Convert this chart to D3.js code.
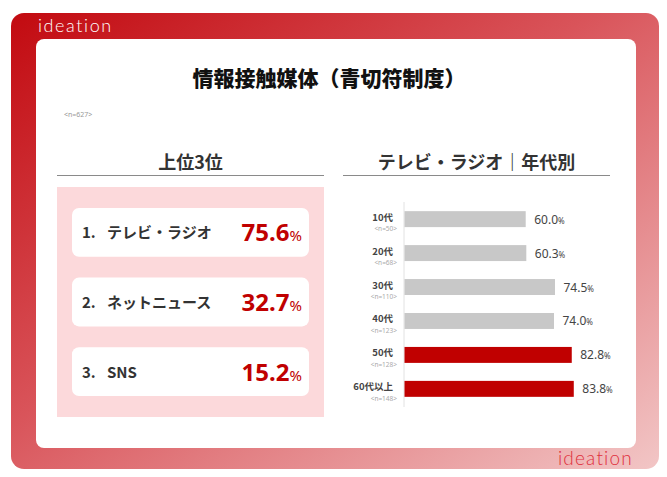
<!DOCTYPE html>
<html>
<head>
<meta charset="utf-8">
<script src="https://cdn.jsdelivr.net/npm/d3@7"></script>
<style>
  html, body { margin: 0; padding: 0; background: #fff; }
  svg { display: block; font-family: "Noto Sans CJK JP", "Noto Sans", sans-serif; }
</style>
</head>
<body>
<div id="chart"></div>
<script>
// ---- data ----
const titleText = '情報接触媒体（青切符制度）'
const sampleNote = '<n=627>'
const top3Title = '上位3位'
const top3Labels = ['テレビ・ラジオ', 'ネットニュース', 'SNS']
const top3Values = [75.6, 32.7, 15.2]
const ageTitle = 'テレビ・ラジオ｜年代別'
const ageGroups = ['10代', '20代', '30代', '40代', '50代', '60代以上']
const ageN = [50, 68, 110, 123, 128, 148]
const ageValues = [60.0, 60.3, 74.5, 74.0, 82.8, 83.8]
const ageHighlight = [false, false, false, false, true, true]

const width = 667
const height = 477

const svg = d3.select('#chart').append('svg')
  .attr('width', width)
  .attr('height', height)

// frame gradient
const defs = svg.append('defs')
const grad = defs.append('linearGradient')
  .attr('id', 'frameGrad')
  .attr('x1', '0%').attr('y1', '0%')
  .attr('x2', '100%').attr('y2', '100%')
grad.append('stop').attr('offset', '0%').attr('stop-color', '#c20a10')
grad.append('stop').attr('offset', '45%').attr('stop-color', '#d9545a')
grad.append('stop').attr('offset', '100%').attr('stop-color', '#f2c6c6')

svg.append('rect')
  .attr('x', 11).attr('y', 13)
  .attr('width', 648).attr('height', 456)
  .attr('rx', 13)
  .attr('fill', 'url(#frameGrad)')

svg.append('rect')
  .attr('x', 36).attr('y', 39)
  .attr('width', 600).attr('height', 409)
  .attr('rx', 8)
  .attr('fill', '#fff')

// logos
svg.append('text')
  .attr('x', 38).attr('y', 32)
  .attr('font-family', 'Lato, "Noto Sans", sans-serif')
  .attr('font-weight', 300)
  .attr('font-size', 18)
  .attr('letter-spacing', 1.6)
  .attr('fill', '#fff')
  .text('ideation')

svg.append('text')
  .attr('x', 633).attr('y', 465)
  .attr('text-anchor', 'end')
  .attr('font-family', 'Lato, "Noto Sans", sans-serif')
  .attr('font-weight', 300)
  .attr('font-size', 19)
  .attr('letter-spacing', 1.2)
  .attr('fill', '#e0303c')
  .text('ideation')

// title
svg.append('text')
  .attr('x', 329).attr('y', 86)
  .attr('text-anchor', 'middle')
  .attr('font-weight', 900)
  .attr('font-size', 21)
  .attr('fill', '#111')
  .text(titleText)

svg.append('text')
  .attr('x', 64).attr('y', 117)
  .attr('font-family', '"Noto Sans", sans-serif')
  .attr('font-size', 7)
  .attr('fill', '#999')
  .text(sampleNote)

// section headers
function header(x0, x1, label) {
  svg.append('text')
    .attr('x', (x0 + x1) / 2).attr('y', 169)
    .attr('text-anchor', 'middle')
    .attr('font-weight', 700)
    .attr('font-size', 18)
    .attr('fill', '#333')
    .text(label)
  svg.append('line')
    .attr('x1', x0).attr('x2', x1)
    .attr('y1', 175.5).attr('y2', 175.5)
    .attr('stroke', '#8a8a8a')
    .attr('stroke-width', 1)
}
header(57, 324, top3Title)
header(343, 610, ageTitle)

// ---- top 3 ----
svg.append('rect')
  .attr('x', 57).attr('y', 187)
  .attr('width', 267).attr('height', 230)
  .attr('fill', '#fcd9db')

const yCard = d3.scaleBand()
  .domain(d3.range(top3Labels.length))
  .range([187, 417])
  .paddingInner(0.3)
  .paddingOuter(0.3)

const cards = svg.append('g').selectAll('g')
  .data(top3Labels.map((d, i) => ({ label: d, value: top3Values[i], i: i })))
  .join('g')
  .attr('transform', d => `translate(0, ${yCard(d.i)})`)

cards.append('rect')
  .attr('x', 72)
  .attr('width', 237)
  .attr('height', yCard.bandwidth())
  .attr('rx', 7)
  .attr('fill', '#fff')

const mid = yCard.bandwidth() / 2

cards.append('text')
  .attr('x', 82).attr('y', mid + 6)
  .attr('font-weight', 700)
  .attr('font-size', 15)
  .attr('fill', '#333')
  .text(d => (d.i + 1) + '.')

cards.append('text')
  .attr('x', 107).attr('y', mid + 6)
  .attr('font-weight', 700)
  .attr('font-size', 15)
  .attr('fill', '#333')
  .text(d => d.label)

const valText = cards.append('text')
  .attr('x', 302).attr('y', mid + 9)
  .attr('text-anchor', 'end')
  .attr('font-family', '"Noto Sans", sans-serif')
  .attr('font-weight', 700)
  .attr('fill', '#c00000')
valText.append('tspan')
  .attr('font-size', 24)
  .text(d => d.value.toFixed(1))
valText.append('tspan')
  .attr('font-size', 15)
  .attr('font-weight', 400)
  .text('%')

// ---- age bars ----
const x = d3.scaleLinear().domain([0, 100]).range([404, 606])
const y = d3.scaleBand()
  .domain(ageGroups)
  .range([202, 406])
  .paddingInner(0.53)
  .paddingOuter(0.27)

svg.append('line')
  .attr('x1', x(0)).attr('x2', x(0))
  .attr('y1', 202).attr('y2', 407)
  .attr('stroke', '#e2e2e2')
  .attr('stroke-width', 1)

const rows = ageGroups.map((g, i) => ({ g: g, n: ageN[i], v: ageValues[i], hi: ageHighlight[i] }))

svg.append('g').selectAll('rect')
  .data(rows)
  .join('rect')
  .attr('x', x(0) + 0.5)
  .attr('y', d => y(d.g))
  .attr('width', d => x(d.v) - x(0))
  .attr('height', y.bandwidth())
  .attr('fill', d => d.hi ? '#c00000' : '#c8c8c8')

const bh = y.bandwidth() / 2

svg.append('g').selectAll('text')
  .data(rows)
  .join('text')
  .attr('x', 393)
  .attr('y', d => y(d.g) + bh + 1.5)
  .attr('text-anchor', 'end')
  .attr('font-weight', 700)
  .attr('font-size', 9.5)
  .attr('fill', '#444')
  .text(d => d.g)

svg.append('g').selectAll('text')
  .data(rows)
  .join('text')
  .attr('x', 397)
  .attr('y', d => y(d.g) + bh + 12)
  .attr('text-anchor', 'end')
  .attr('font-family', '"Noto Sans", sans-serif')
  .attr('font-size', 6.5)
  .attr('fill', '#aaa')
  .text(d => '<n=' + d.n + '>')

const lab = svg.append('g').selectAll('text')
  .data(rows)
  .join('text')
  .attr('x', d => x(d.v) + 9)
  .attr('y', d => y(d.g) + bh + 4.5)
  .attr('font-family', '"Noto Sans", sans-serif')
  .attr('fill', '#444')
lab.append('tspan')
  .attr('font-size', 12)
  .text(d => d.v.toFixed(1))
lab.append('tspan')
  .attr('font-size', 8)
  .text('%')
</script>
</body>
</html>
